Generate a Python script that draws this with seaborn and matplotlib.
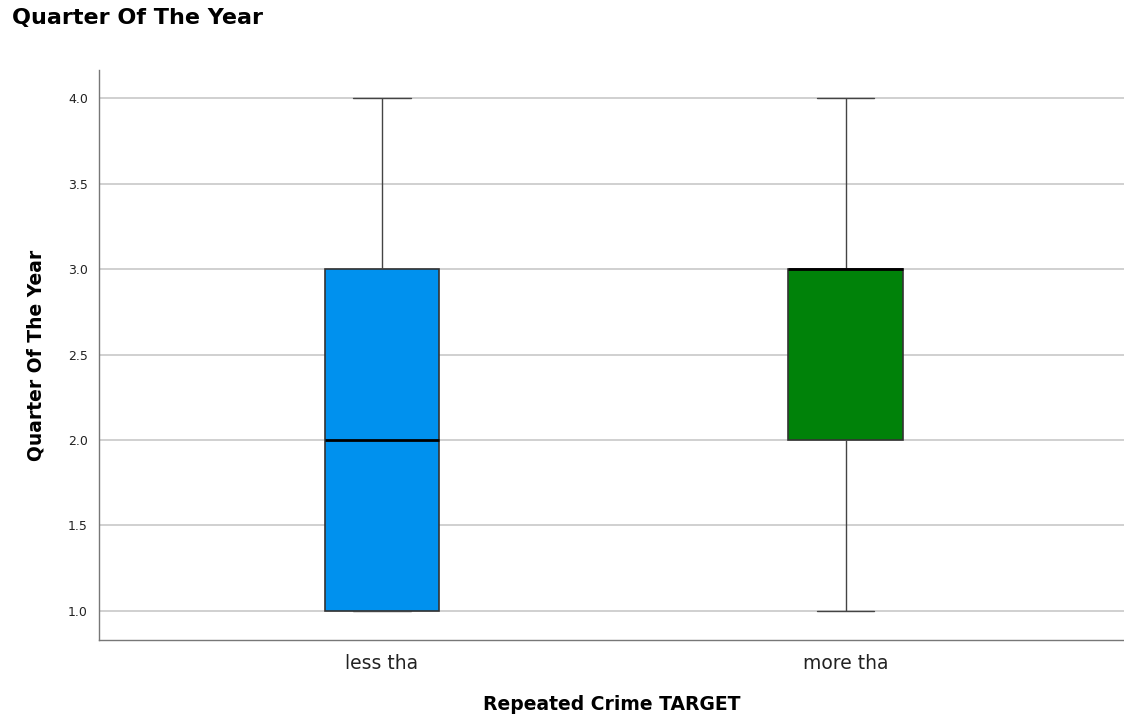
import matplotlib
matplotlib.use("Agg")
import matplotlib.pyplot as plt
import seaborn as sns
import pandas as pd

# Quarter of the year observed for each repeat-crime group
categories = ["less tha", "more tha"]
less_values = [1, 1, 2, 3, 4]
more_values = [1, 2, 3, 3, 4]
box_colors = ["#0091EE", "#008209"]
y_ticks = [1.0, 1.5, 2.0, 2.5, 3.0, 3.5, 4.0]

df = pd.DataFrame({
    "Repeated Crime TARGET": [categories[0]] * len(less_values) + [categories[1]] * len(more_values),
    "Quarter Of The Year": less_values + more_values,
})

sns.set_style("white")
plt.rcParams["font.family"] = ["DejaVu Sans"]
plt.rcParams["text.color"] = "black"
plt.rcParams["axes.labelcolor"] = "black"

fig = plt.figure(figsize=(11.24, 7.15), dpi=100)
ax = fig.add_axes([99 / 1124, 75 / 715, (1124 - 99) / 1124, (640 - 70) / 715])

sns.boxplot(
    data=df, x="Repeated Crime TARGET", y="Quarter Of The Year",
    hue="Repeated Crime TARGET", palette=box_colors, order=categories,
    width=0.247, whis=1.5, linecolor="#333333", linewidth=1.0,
    medianprops=dict(color="black", linewidth=2.0),
    whiskerprops=dict(color="#444444", linewidth=1.0),
    capprops=dict(color="#444444", linewidth=1.0),
    boxprops=dict(edgecolor="#333333", linewidth=1.2),
    showfliers=False, saturation=1, legend=False, ax=ax, zorder=3,
)

ax.set_xlim(-0.61, 1.6)
ax.set_ylim(0.83, 4.165)
ax.set_yticks(y_ticks)
ax.set_yticklabels([f"{t:.1f}" for t in y_ticks], fontsize=9, color="#222222")
ax.tick_params(axis="y", length=0, pad=8)
ax.tick_params(axis="x", length=0, pad=10, labelsize=13.5, labelcolor="#222222")
ax.yaxis.grid(True, color="#C8C8C8", linewidth=1.2, zorder=0)
ax.set_axisbelow(True)

for side in ["top", "right"]:
    ax.spines[side].set_visible(False)
for side in ["left", "bottom"]:
    ax.spines[side].set_color("#777777")
    ax.spines[side].set_linewidth(1.0)

ax.set_xlabel("Repeated Crime TARGET", fontsize=13.5, fontweight="bold", labelpad=16)
ax.set_ylabel("Quarter Of The Year", fontsize=13.5, fontweight="bold", labelpad=16)

fig.text(12 / 1124, 1 - 18 / 715, "Quarter Of The Year", fontsize=16,
         fontweight="bold", ha="left", va="center")

fig.savefig("out.png", dpi=100)
